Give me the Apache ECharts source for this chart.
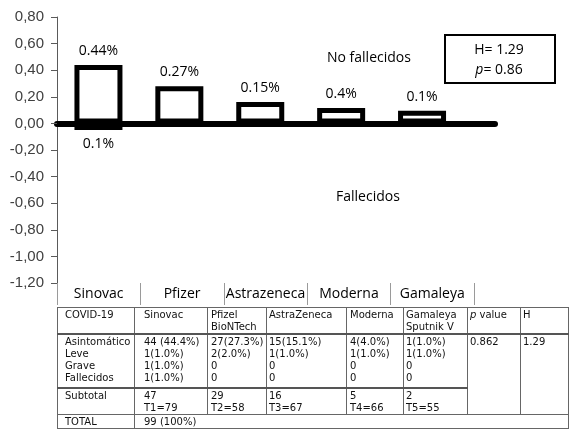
<!DOCTYPE html>
<html>
<head>
<meta charset="utf-8">
<script src="https://cdn.jsdelivr.net/npm/echarts@6/dist/echarts.min.js"></script>
<style>
  html,body{margin:0;padding:0;background:#fff;}
  #chart{position:absolute;left:0;top:0;width:576px;height:429px;}
  #tbl{position:absolute;left:57px;top:307px;border-collapse:collapse;table-layout:fixed;
       font-family:'DejaVu Sans',sans-serif;font-size:10px;color:#111;}
  #tbl td{border:1px solid #666;vertical-align:top;padding:1px 0 0 3px;line-height:12px;
          white-space:pre-line;overflow:hidden;box-sizing:border-box;}
  #tbl tr.hdr td{border-bottom:2px solid #555;}
  #tbl tr.dat td.blk{border-bottom:2px solid #555;}
</style>
</head>
<body>
<div id="chart"></div>
<table id="tbl"></table>
<script>
// ---- chart data ----
const categories = ['Sinovac', 'Pfizer', 'Astrazeneca', 'Moderna', 'Gamaleya'];
const noFallecidos = [0.44, 0.28, 0.16, 0.115, 0.095];
const noFallecidosLabels = ['0.44%', '0.27%', '0.15%', '0.4%', '0.1%'];
const fallecidos = [-0.05, null, null, null, null];
const fallecidosLabels = ['0.1%', '', '', '', ''];
const yMin = -1.2, yMax = 0.8, yStep = 0.2;
const statH = '1.29';
const statP = '0.86';

// ---- table data ----
const tableHeader = ['COVID-19', 'Sinovac', 'Pfizel\nBioNTech', 'AstraZeneca', 'Moderna', 'Gamaleya\nSputnik V', 'p value', 'H'];
const severity = ['Asintomático', 'Leve', 'Grave', 'Fallecidos'];
const sinovacCol = ['44 (44.4%)', '1(1.0%)', '1(1.0%)', '1(1.0%)'];
const pfizerCol = ['27(27.3%)', '2(2.0%)', '0', '0'];
const astraCol = ['15(15.1%)', '1(1.0%)', '0', '0'];
const modernaCol = ['4(4.0%)', '1(1.0%)', '0', '0'];
const gamaleyaCol = ['1(1.0%)', '1(1.0%)', '0', '0'];
const pValue = '0.862';
const hValue = '1.29';
const subtotals = ['47', '29', '16', '5', '2'];
const tTotals = ['T1=79', 'T2=58', 'T3=67', 'T4=66', 'T5=55'];
const totalLabel = 'TOTAL';
const totalValue = '99 (100%)';

// ---- build table ----
(function(){
  const colW = [77, 73, 59, 80, 57, 64, 53, 48];
  const t = document.getElementById('tbl');
  let h = '<colgroup>' + colW.map(w => '<col style="width:' + w + 'px">').join('') + '</colgroup>';
  const esc = s => s.replace(/&/g,'&amp;').replace(/</g,'&lt;');
  const pad = [7, 9, 3, 2, 3, 2, 2, 2];
  const td = (s, i, extra) => '<td ' + (extra || '') + ' style="padding-left:' + pad[i] + 'px">' + s + '</td>';
  h += '<tr class="hdr" style="height:24px">' + tableHeader.map((s, i) =>
        td(i === 6 ? '<i>p</i> value' : esc(s), i)).join('') + '</tr>';
  const cols = [severity, sinovacCol, pfizerCol, astraCol, modernaCol, gamaleyaCol];
  h += '<tr class="dat" style="height:54px">' + cols.map((c, i) => td(c.join('\n'), i, 'class="blk"')).join('') +
       td(pValue, 6, 'rowspan="2"') + td(hValue, 7, 'rowspan="2"') + '</tr>';
  h += '<tr style="height:25px">' + td('Subtotal', 0) +
       subtotals.map((s, i) => td(s + '\n' + tTotals[i], i + 1)).join('') + '</tr>';
  h += '<tr style="height:12px">' + td(totalLabel, 0) + td(totalValue, 1, 'colspan="7"') + '</tr>';
  t.innerHTML = h;
})();

// ---- chart ----
const chart = echarts.init(document.getElementById('chart'), null, {renderer: 'canvas'});
const FONT = 'Open Sans';
const option = {
  animation: false,
  backgroundColor: '#fff',
  grid: [
    {left: 58, width: 404.5, top: 17, height: 266},
    {left: 57, width: 438, top: 17, height: 266},
    {left: 57, width: 417, top: 283, height: 0.01}
  ],
  xAxis: [
    {gridIndex: 0, type: 'category', data: categories, show: false},
    {gridIndex: 1, type: 'category', data: [''], axisLine: {onZero: true, lineStyle: {color: '#000', width: 6}},
     axisTick: {show: false}, axisLabel: {show: false}},
    {gridIndex: 2, type: 'category', data: categories, position: 'bottom',
     axisLine: {show: false},
     axisTick: {show: true, interval: 0, length: 22, lineStyle: {color: '#9a9a9a', width: 1}},
     axisLabel: {interval: 0, margin: 4, color: '#000', fontFamily: FONT, fontSize: 14}}
  ],
  yAxis: [
    {gridIndex: 0, type: 'value', min: yMin, max: yMax, interval: yStep, show: false},
    {gridIndex: 1, type: 'value', min: yMin, max: yMax, interval: yStep,
     axisLine: {show: true, lineStyle: {color: '#5a5a5a', width: 1}},
     axisTick: {show: true, length: 6, lineStyle: {color: '#5a5a5a'}},
     splitLine: {show: false},
     axisLabel: {margin: 13, color: '#404040', fontFamily: 'Liberation Sans', fontSize: 15,
                 formatter: v => v.toFixed(2).replace('.', ',')}},
    {gridIndex: 2, type: 'value', show: false}
  ],
  series: [
    {type: 'bar', xAxisIndex: 0, yAxisIndex: 0, data: noFallecidos, barWidth: 48, barGap: '-100%',
     itemStyle: {color: '#fff', borderColor: '#000', borderWidth: 5},
     label: {show: true, position: 'top', distance: 7, color: '#000', fontFamily: FONT, fontSize: 14,
             formatter: p => noFallecidosLabels[p.dataIndex]}},
    {type: 'bar', xAxisIndex: 0, yAxisIndex: 0, data: fallecidos, barWidth: 48, barGap: '-100%',
     itemStyle: {color: '#000', borderColor: '#000', borderWidth: 5},
     label: {show: true, position: 'bottom', distance: 7, color: '#000', fontFamily: FONT, fontSize: 14,
             formatter: p => fallecidosLabels[p.dataIndex]}}
  ],
  graphic: [
    {type: 'text', left: 327, top: 51, style: {text: 'No fallecidos', font: '14px "Open Sans"', fill: '#000'}},
    {type: 'text', left: 336, top: 190, style: {text: 'Fallecidos', font: '14px "Open Sans"', fill: '#000'}},
    {type: 'rect', shape: {x: 445, y: 35, width: 110, height: 48}, style: {fill: '#fff', stroke: '#000', lineWidth: 2}},
    {type: 'text', x: 499, y: 50, style: {text: 'H= ' + statH, font: '14px "Open Sans"', fill: '#000', align: 'center', verticalAlign: 'middle'}},
    {type: 'text', x: 499, y: 70, style: {text: '{i|p}= ' + statP, font: '14px "Open Sans"', fill: '#000', align: 'center', verticalAlign: 'middle',
       rich: {i: {fontStyle: 'italic', fontFamily: 'Open Sans', fontSize: 14, fill: '#000'}}}}
  ]
};
chart.setOption(option);
</script>
</body>
</html>
